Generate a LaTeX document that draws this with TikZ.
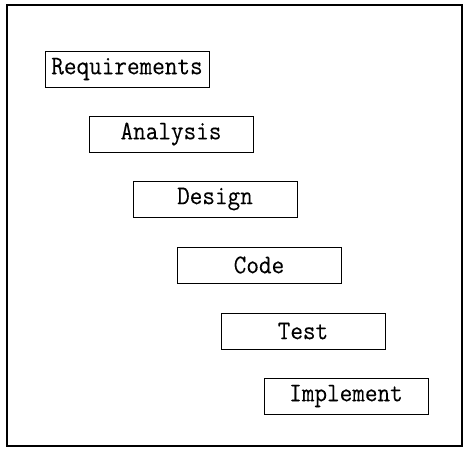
\documentclass[tikz,border=0pt]{standalone}
\usepackage{fontspec}
\setmonofont{Latin Modern Mono}[FakeBold=0.15]
\begin{document}
\begin{tikzpicture}[x=1pt,y=-1pt,
  phase/.style={draw, line width=0.9pt, minimum width=164pt, minimum height=36pt,
    inner sep=0pt, font=\ttfamily\fontsize{24.5}{25}\selectfont},
  frame/.style={draw, line width=1.8pt}]
  \useasboundingbox (0,0) rectangle (467,450);
  % outer frame
  \draw[frame] (7,5) rectangle (462,446);
  % waterfall phases, each shifted right and down
  \node[phase] (req)  at (127,69)  {\scalebox{1}[1.1]{Requirements}\hspace{5pt}};
  \node[phase] (ana)  at (171,134) {\scalebox{1}[1.1]{Analysis}\hspace{6pt}};
  \node[phase] (des)  at (215,199) {\scalebox{1}[1.1]{Design}\hspace{10pt}};
  \node[phase] (code) at (259,265) {\scalebox{1}[1.1]{Code}\hspace{8pt}};
  \node[phase] (test) at (303,331) {\scalebox{1}[1.1]{Test}\hspace{8pt}};
  \node[phase] (impl) at (346,396) {\scalebox{1}[1.1]{Implement}\hspace{8pt}};
\end{tikzpicture}
\end{document}
